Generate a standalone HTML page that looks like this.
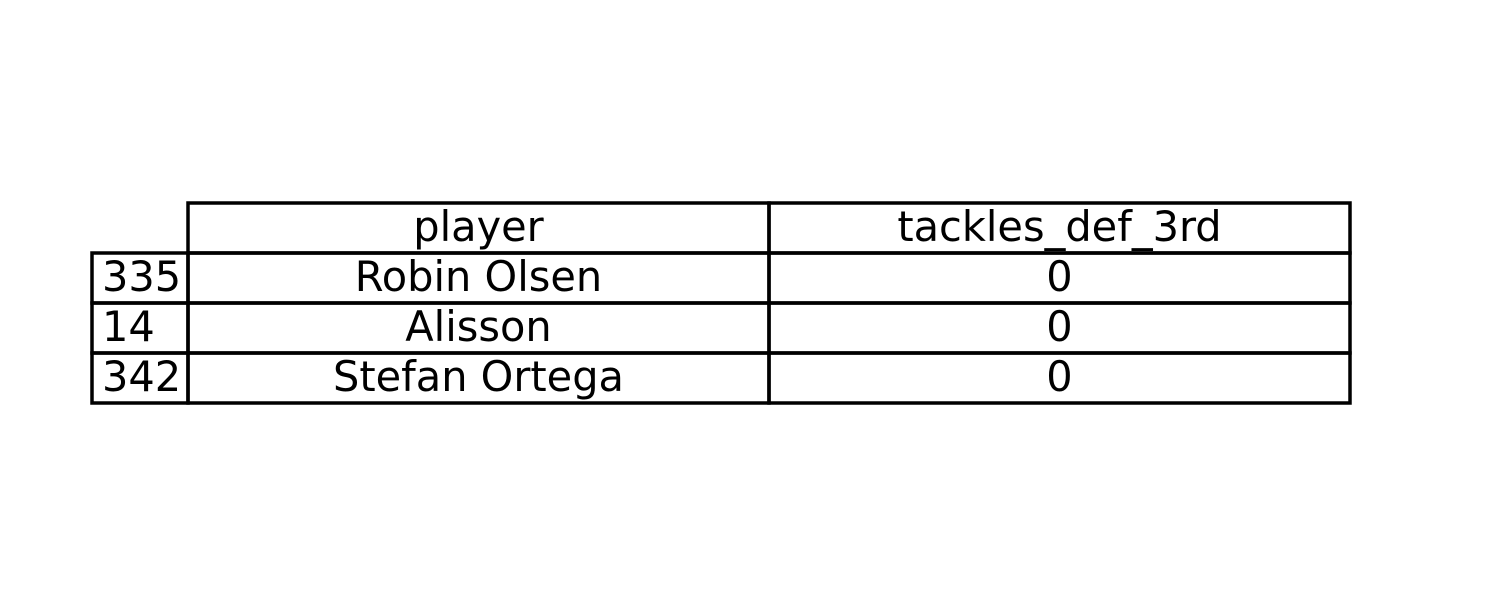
<!DOCTYPE html>
<html><head><meta charset="utf-8"><style>
html,body{margin:0;padding:0;background:#fff;width:1500px;height:600px;overflow:hidden}
text{font-family:"DejaVu Sans","Liberation Sans",sans-serif;font-size:41.5px;fill:#000}
</style></head><body>
<svg id="chart" width="1500" height="600" xmlns="http://www.w3.org/2000/svg"></svg>
<script>
const columns = ["player", "tackles_def_3rd"];
const rowIndex = ["335", "14", "342"];
const players = ["Robin Olsen", "Alisson", "Stefan Ortega"];
const tackles = [0, 0, 0];

const svg = document.getElementById('chart');
const NS = 'http://www.w3.org/2000/svg';
const top0 = 203, rowH = 50, idxX = 92, idxW = 96, colW = 581;
function rect(x, y, w, h, name) {
  const r = document.createElementNS(NS, 'rect');
  r.setAttribute('x', x); r.setAttribute('y', y); r.setAttribute('width', w); r.setAttribute('height', h);
  r.setAttribute('fill', 'none'); r.setAttribute('stroke', '#000'); r.setAttribute('stroke-width', 3.5);
  
  
  svg.appendChild(r);
}
function txt(x, y, s, anchor, name) {
  const t = document.createElementNS(NS, 'text');
  t.setAttribute('x', x); t.setAttribute('y', y); t.setAttribute('text-anchor', anchor);
  t.textContent = s;
  
  
  svg.appendChild(t);
}
const x0 = idxX + idxW;
columns.forEach((c, j) => {
  rect(x0 + j * colW, top0, colW, rowH, 'header-cell');
  txt(x0 + j * colW + colW / 2, top0 + rowH / 2 + 13, c, 'middle', 'column-header');
});
rowIndex.forEach((r, i) => {
  const y = top0 + (i + 1) * rowH;
  rect(idxX, y, idxW, rowH, 'index-cell');
  txt(idxX + 10, y + rowH / 2 + 13, r, 'start', 'row-index');
  const vals = [players[i], String(tackles[i])];
  vals.forEach((v, j) => {
    rect(x0 + j * colW, y, colW, rowH, 'data-cell');
    txt(x0 + j * colW + colW / 2, y + rowH / 2 + 13, v, 'middle', j === 0 ? 'player-name' : 'tackles-value');
  });
});
</script>
</body></html>
